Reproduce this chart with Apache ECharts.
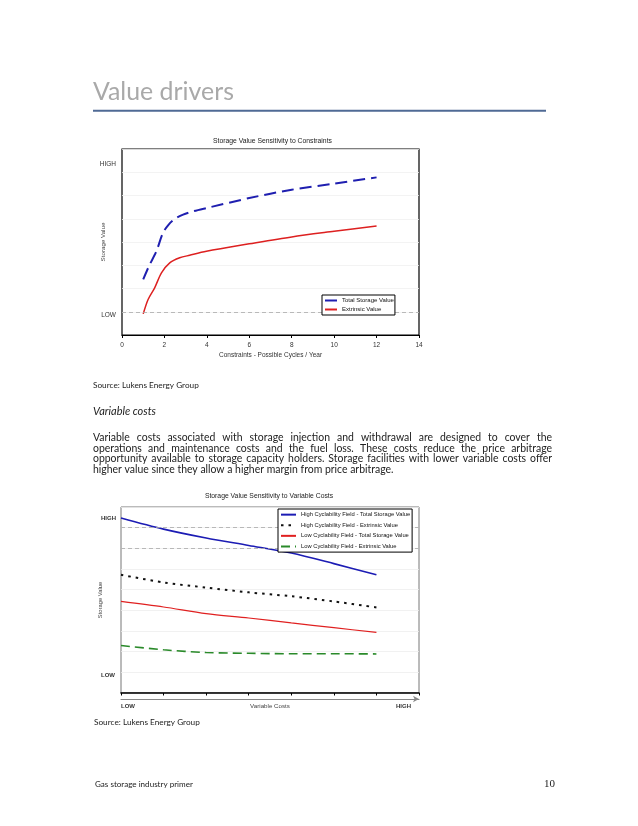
<!DOCTYPE html>
<html><head><meta charset="utf-8">
<script src="https://cdn.jsdelivr.net/npm/echarts@6/dist/echarts.min.js"></script>
<style>html,body{margin:0;padding:0;background:#fff}#c{width:638px;height:826px}</style>
</head><body><div id="c"></div>
<script>
// ---------- Chart 1: Storage Value Sensitivity to Constraints ----------
const c1Title = 'Storage Value Sensitivity to Constraints';
const c1Names = ['Total Storage Value', 'Extrinsic Value'];
const totalX = [1.0, 1.27, 1.62, 1.93, 2.2, 2.49, 2.88, 3.35, 3.98, 6.0, 8.0, 10.0, 12.0];
const totalY = [1.39, 1.96, 2.6, 3.39, 3.75, 3.99, 4.18, 4.32, 4.46, 4.89, 5.25, 5.51, 5.78];
const extrX = [1.0, 1.23, 1.54, 1.86, 2.25, 2.72, 3.19, 3.98, 6.0, 8.0, 10.0, 12.0];
const extrY = [-0.09, 0.53, 1.03, 1.67, 2.1, 2.32, 2.43, 2.6, 2.92, 3.22, 3.46, 3.69];
const c1Levels = [['HIGH', 6.35], ['LOW', -0.15]];
const c1XName = 'Constraints - Possible Cycles / Year';

// ---------- Chart 2: Storage Value Sensitivity to Variable Costs ----------
const c2Title = 'Storage Value Sensitivity to Variable Costs';
const c2Names = ['High Cyclability Field - Total Storage Value', 'High Cyclability Field - Extrinsic Value',
                 'Low Cyclability Field - Total Storage Value', 'Low Cyclability Field - Extrinsic Value'];
const costSteps = [0, 1, 2, 3, 4, 5, 6];
const hiTotal = [8.47, 7.93, 7.5, 7.14, 6.77, 6.26, 5.72];
const hiExtr  = [5.72, 5.35, 5.1, 4.87, 4.68, 4.43, 4.14];
const loTotal = [4.43, 4.16, 3.84, 3.63, 3.39, 3.16, 2.93];
const loExtr  = [2.3, 2.09, 1.96, 1.92, 1.9, 1.9, 1.89];
const c2Levels = [['HIGH', 8.45], ['LOW', 0.84]];
const c2Ends = ['LOW', 'HIGH'];
const c2XName = 'Variable Costs';
const c2RefLines = [7, 8];

// ---------- Page text ----------
const pageTitle = 'Value drivers';
const sourceText = 'Source: Lukens Energy Group';
const subhead = 'Variable costs';
const paraLines = [
  'Variable costs associated with storage injection and withdrawal are designed to cover the',
  'operations and maintenance costs and the fuel loss. These costs reduce the price arbitrage',
  'opportunity available to storage capacity holders.  Storage facilities with lower variable costs offer',
  'higher value since they allow a higher margin from price arbitrage.'
];
const footerText = 'Gas storage industry primer';
const pageNum = '10';

const axisFont = 'Liberation Sans';
const pageFont = 'Lato';

const mctx = document.createElement('canvas').getContext('2d');
function tw(text, size, fam, style, weight) {
  mctx.font = (style || 'normal') + ' ' + (weight || 'normal') + ' ' + size + 'px "' + fam + '"';
  return mctx.measureText(text).width;
}
function fit(text, fam, target, style) { return 10 * target / tw(text, 10, fam, style); }

const pair = (xs, ys) => xs.map((x, i) => [x, ys[i]]);

const chart = echarts.init(document.getElementById('c'), null, {width: 638, height: 826});
const legendCommon = {orient: 'vertical', borderColor: '#000', borderWidth: 1, backgroundColor: '#fff',
  selectedMode: false, z: 20, itemStyle: {opacity: 0}};
const option = {
  backgroundColor: '#fff',
  animation: false,
  textStyle: {fontFamily: axisFont},
  grid: [
    {left: 122, top: 149, width: 297, height: 186, show: true, borderColor: '#000', borderWidth: 1.2, backgroundColor: 'transparent'},
    {left: 121, top: 507, width: 298, height: 186, show: true, borderColor: '#777', borderWidth: 1, backgroundColor: 'transparent'}
  ],
  xAxis: [
    {gridIndex: 0, type: 'value', min: 0, max: 14, interval: 2,
     axisLine: {onZero: false, lineStyle: {color: '#000', width: 1.2}},
     axisTick: {length: 3, lineStyle: {color: '#000'}},
     axisLabel: {fontSize: 6.5, color: '#333', margin: 7},
     splitLine: {show: false},
     name: c1XName, nameLocation: 'middle', nameGap: 17, nameMoveOverlap: false,
     nameTextStyle: {fontSize: 6.5, color: '#333'}},
    {gridIndex: 1, type: 'value', min: 0, max: 7, interval: 1,
     axisLine: {onZero: false, lineStyle: {color: '#000', width: 1.6}},
     axisTick: {length: 2.5, lineStyle: {color: '#000'}},
     axisLabel: {show: false}, splitLine: {show: false}},
    {gridIndex: 1, type: 'value', min: 0, max: 1, interval: 1, position: 'bottom', offset: 6,
     axisLine: {onZero: false, symbol: ['none', 'arrow'], symbolSize: [5, 6], lineStyle: {color: '#888', width: 1.2}},
     axisTick: {show: false},
     axisLabel: {formatter: v => (v === 0 ? c2Ends[0] : c2Ends[1]), fontSize: 6, fontWeight: 'bold', color: '#333', margin: 4,
                 alignMinLabel: 'left', alignMaxLabel: 'right', padding: [0, 8, 0, 0]},
     splitLine: {show: false},
     name: c2XName, nameLocation: 'middle', nameGap: 4, nameMoveOverlap: false,
     nameTextStyle: {fontSize: 6.2, color: '#444'}}
  ],
  yAxis: [
    {gridIndex: 0, type: 'value', min: -1, max: 7, interval: 1,
     axisLine: {show: false}, axisTick: {show: false}, axisLabel: {show: false},
     splitLine: {lineStyle: {color: '#f0f0f0', width: 0.8}},
     name: 'Storage Value', nameLocation: 'middle', nameGap: 16, nameMoveOverlap: false,
     nameTextStyle: {fontSize: 6.2, color: '#444'}},
    {gridIndex: 1, type: 'value', min: 0, max: 9, interval: 1,
     axisLine: {show: false}, axisTick: {show: false}, axisLabel: {show: false},
     splitLine: {lineStyle: {color: '#eeeeee', width: 0.8}},
     name: 'Storage Value', nameLocation: 'middle', nameGap: 18, nameMoveOverlap: false,
     nameTextStyle: {fontSize: 5.8, color: '#444'}}
  ],
  legend: [
    Object.assign({data: c1Names, left: 322, top: 295, padding: [1, 1, 1, 2], itemGap: 0,
      itemWidth: 12, itemHeight: 8, textStyle: {fontSize: 6.0, color: '#111', lineHeight: 9}}, legendCommon),
    Object.assign({data: c2Names, left: 278, top: 509, padding: [0.5, 2, 0.5, 2], itemGap: 0.3,
      itemWidth: 15, itemHeight: 8, textStyle: {fontSize: 5.8, color: '#111', lineHeight: 10.3}}, legendCommon)
  ],
  series: [
    {name: c1Names[0], type: 'line', xAxisIndex: 0, yAxisIndex: 0, data: pair(totalX, totalY), smooth: 0.3,
     symbol: 'none', itemStyle: {color: '#1f1fb0'}, lineStyle: {color: '#1f1fb0', width: 2, type: [12, 6]}, z: 4,
     markLine: {silent: true, symbol: ['none', 'none'], label: {show: false},
                lineStyle: {color: '#aaa', type: [4, 3], width: 0.8}, data: [{yAxis: 0}]}},
    {name: c1Names[1], type: 'line', xAxisIndex: 0, yAxisIndex: 0, data: pair(extrX, extrY), smooth: 0.3,
     symbol: 'none', itemStyle: {color: '#dd2020'}, lineStyle: {color: '#dd2020', width: 1.5}, z: 4},
    {name: c2Names[0], type: 'line', xAxisIndex: 1, yAxisIndex: 1, data: pair(costSteps, hiTotal), smooth: 0.3,
     symbol: 'none', itemStyle: {color: '#1c1cb4'}, lineStyle: {color: '#1c1cb4', width: 1.6}, z: 4,
     markLine: {silent: true, symbol: ['none', 'none'], label: {show: false},
                lineStyle: {color: '#aaa', type: [4, 3], width: 0.8}, data: c2RefLines.map(v => ({yAxis: v}))}},
    {name: c2Names[1], type: 'line', xAxisIndex: 1, yAxisIndex: 1, data: pair(costSteps, hiExtr), smooth: 0.3,
     symbol: 'none', itemStyle: {color: '#111'}, lineStyle: {color: '#111', width: 2, type: [2.5, 5]}, z: 4},
    {name: c2Names[2], type: 'line', xAxisIndex: 1, yAxisIndex: 1, data: pair(costSteps, loTotal), smooth: 0.3,
     symbol: 'none', itemStyle: {color: '#e02020'}, lineStyle: {color: '#e02020', width: 1.2}, z: 4},
    {name: c2Names[3], type: 'line', xAxisIndex: 1, yAxisIndex: 1, data: pair(costSteps, loExtr), smooth: 0.3,
     symbol: 'none', itemStyle: {color: '#2a8a2a'}, lineStyle: {color: '#2a8a2a', width: 1.6, type: [9, 5]}, z: 4}
  ]
};
chart.setOption(option);

const g = [];
function txt(text, x, y, st) {
  g.push({type: 'text', x: x, y: y, silent: true,
          style: Object.assign({text: text, align: 'left', verticalAlign: 'middle', fill: '#222'}, st)});
}
// axis level labels
c1Levels.forEach(([t, v]) => txt(t, 116, chart.convertToPixel({yAxisIndex: 0}, v),
  {align: 'right', fontSize: 6.5, fontFamily: axisFont, fill: '#333'}));
c2Levels.forEach(([t, v]) => txt(t, 101, chart.convertToPixel({yAxisIndex: 1}, v),
  {fontSize: 6, fontWeight: 'bold', fontFamily: axisFont, fill: '#333'}));
// chart titles
txt(c1Title, 272.5, 140.7, {align: 'center', fontSize: 6.8, fontFamily: axisFont, fill: '#222'});
txt(c2Title, 269, 496.5, {align: 'center', fontSize: 6.8, fontFamily: axisFont, fill: '#222'});

// page title + rule
txt(pageTitle, 93, 92, {fontSize: fit(pageTitle, pageFont, 141), fontFamily: pageFont, fill: '#a9a9a9'});
g.push({type: 'line', silent: true, shape: {x1: 93, y1: 110.7, x2: 546, y2: 110.7}, style: {stroke: '#4f6a95', lineWidth: 2}});
// sources
const srcSize = fit(sourceText, pageFont, 106);
txt(sourceText, 93, 385, {fontSize: srcSize, fontFamily: pageFont, fill: '#222'});
txt(sourceText, 94, 722.7, {fontSize: srcSize, fontFamily: pageFont, fill: '#222'});
// subhead
txt(subhead, 93, 411.7, {fontSize: fit(subhead, pageFont, 63, 'italic'), fontStyle: 'italic', fontFamily: pageFont, fill: '#222'});
// paragraph, justified
const paraSize = fit(paraLines[3], pageFont, 301);
const paraY = [437.7, 448.3, 459, 469.7];
paraLines.forEach((line, i) => {
  if (i === paraLines.length - 1) {
    txt(line, 93, paraY[i], {fontSize: paraSize, fontFamily: pageFont, fill: '#222'});
    return;
  }
  const words = line.split(/\s+/);
  const widths = words.map(w => tw(w, paraSize, pageFont));
  const total = widths.reduce((a, b) => a + b, 0);
  const gap = (459 - total) / (words.length - 1);
  let x = 93;
  words.forEach((w, k) => {
    txt(w, x, paraY[i], {fontSize: paraSize, fontFamily: pageFont, fill: '#222'});
    x += widths[k] + gap;
  });
});
// footer
txt(footerText, 95, 784, {fontSize: fit(footerText, pageFont, 98), fontFamily: pageFont, fill: '#222'});
txt(pageNum, 555, 784, {align: 'right', fontSize: 11, fontFamily: 'Liberation Serif', fill: '#222'});

chart.setOption({graphic: g});
</script>
</body></html>
